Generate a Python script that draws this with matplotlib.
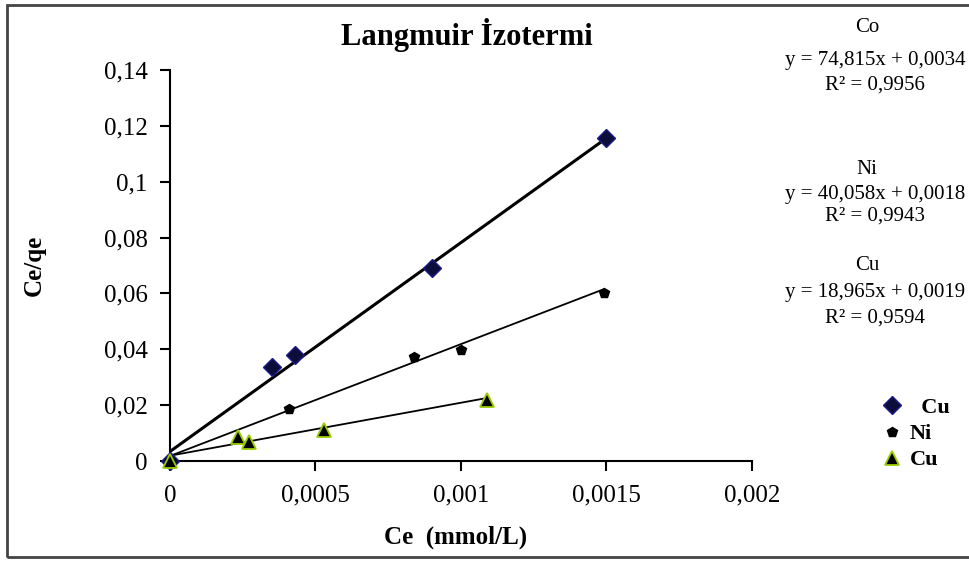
import matplotlib.pyplot as plt
import numpy as np
from matplotlib.patches import Rectangle
from matplotlib.ticker import FuncFormatter

# Ce (mmol/L) and Ce/qe values for each metal
co_ce = [0, 0.00035, 0.00043, 0.0009, 0.0015]
co_ratio = [0, 0.0336, 0.0378, 0.0690, 0.1158]

ni_ce = [0, 0.00041, 0.00084, 0.00100, 0.00149]
ni_ratio = [0, 0.0187, 0.0372, 0.0396, 0.0600]

cu_ce = [0, 0.000235, 0.00027, 0.00053, 0.00109]
cu_ratio = [0, 0.0086, 0.0068, 0.0112, 0.0217]

# linear trendlines: slope, intercept, R^2
metals = ['Co', 'Ni', 'Cu']
slopes = [74.815, 40.058, 18.965]
intercepts = [0.0034, 0.0018, 0.0019]
r2_values = [0.9956, 0.9943, 0.9594]

x_ticks = [0, 0.0005, 0.001, 0.0015, 0.002]
y_ticks = [0, 0.02, 0.04, 0.06, 0.08, 0.1, 0.12, 0.14]

serif = ['Liberation Serif', 'DejaVu Serif']
plt.rcParams['font.family'] = serif


def comma_fmt(v, pos=None):
    if v == 0:
        return '0'
    return ('%.4f' % v).rstrip('0').replace('.', ',')


def num(v):
    return str(v).replace('.', ',')


fig = plt.figure(figsize=(9.7, 5.62), dpi=100)
ax = fig.add_axes([170 / 970, 101 / 562, 582 / 970, 391 / 562])

# trendlines from the fitted equations
series_x = [co_ce, ni_ce, cu_ce]
widths = [2.2, 1.3, 1.3]
for xs, m, b, lw in zip(series_x, slopes, intercepts, widths):
    xx = np.array([0, max(xs)])
    ax.plot(xx, m * xx + b, color='black', lw=lw, zorder=2)

ax.plot(co_ce, co_ratio, ls='none', marker='D', ms=9, mfc='#0d0d3a',
        mec='#1c1c8c', mew=1.0, label='  Cu', zorder=3, clip_on=False)
ax.plot(ni_ce, ni_ratio, ls='none', marker='p', ms=7, mfc='black',
        mec='black', label='Ni', zorder=3, clip_on=False)
ax.plot(cu_ce, cu_ratio, ls='none', marker='^', ms=10, mfc='black',
        mec='#9acd00', mew=1.3, label='Cu', zorder=4, clip_on=False)

ax.set_xlim(0, 0.002)
ax.set_ylim(0, 0.14)
ax.set_xticks(x_ticks)
ax.set_yticks(y_ticks)
ax.xaxis.set_major_formatter(FuncFormatter(comma_fmt))
ax.yaxis.set_major_formatter(FuncFormatter(comma_fmt))
for side in ['top', 'right']:
    ax.spines[side].set_visible(False)
for side in ['left', 'bottom']:
    ax.spines[side].set_linewidth(1.5)
ax.tick_params(direction='out', length=7, width=1.5, labelsize=18)
ax.tick_params(axis='y', pad=9)
ax.tick_params(axis='x', pad=10)

ax.set_xlabel('Ce  (mmol/L)', fontsize=18, fontweight='bold')
ax.xaxis.set_label_coords(0.49, -0.165)
ax.set_ylabel('Ce/qe', fontsize=18, fontweight='bold')
ax.yaxis.set_label_coords(-0.213, 0.5)
fig.text(467 / 970, 1 - 35 / 562, 'Langmuir İzotermi', ha='center',
         va='center', fontsize=22, fontweight='bold')

# equation block on the right
eq_x = 875 / 970
rows = [(28, 60, 85), (170, 195, 216), (266, 293, 318)]
for name, m, b, r2, (yn, ye, yr) in zip(metals, slopes, intercepts,
                                        r2_values, rows):
    fig.text(eq_x - 0.008, 1 - yn / 562, name, ha='center', va='center',
             fontsize=15)
    fig.text(eq_x, 1 - ye / 562, 'y = %sx + %s' % (num(m), num(b)),
             ha='center', va='center', fontsize=15)
    fig.text(eq_x, 1 - yr / 562, 'R² = %s' % num(r2), ha='center',
             va='center', fontsize=15)

leg = ax.legend(loc='center left', bbox_to_anchor=(872 / 970, 1 - 434 / 562),
                bbox_transform=fig.transFigure, frameon=False,
                prop={'size': 16, 'weight': 'bold'},
                handlelength=1.0, handletextpad=0.3, labelspacing=0.25,
                borderaxespad=0)

# outer chart border
fig.add_artist(Rectangle((7 / 970, 1 - 557 / 562), 975 / 970, 552 / 562,
                         transform=fig.transFigure, fill=False,
                         edgecolor='#444444', lw=2.0))

fig.savefig('out.png', dpi=100, facecolor='white')
